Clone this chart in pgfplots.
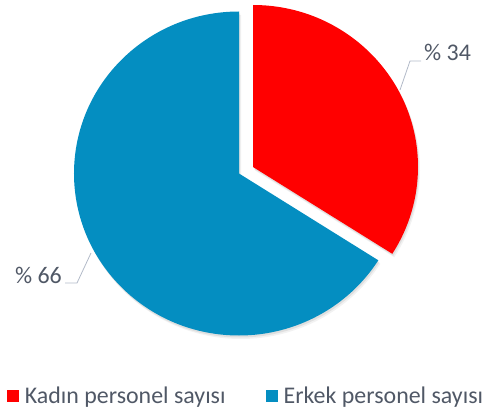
\documentclass[border=0pt]{standalone}
\usepackage{pgfplots}
\pgfplotsset{compat=1.18}
\usepackage{pgfplotstable}
\usepackage{fontspec}
\setmainfont{Carlito}
\definecolor{kred}{RGB}{255,0,0}
\definecolor{kblue}{RGB}{4,142,193}
\definecolor{txt}{RGB}{80,88,102}
\definecolor{lead}{RGB}{178,186,200}

\pgfplotstableread{
label value
Kadin 34
Erkek 66
}\piedata

\begin{document}
\begin{tikzpicture}
\pgfplotstablegetelem{0}{value}\of\piedata \let\vA\pgfplotsretval
\pgfplotstablegetelem{1}{value}\of\piedata \let\vB\pgfplotsretval
\pgfmathsetmacro\aEnd{90-360*\vA/(\vA+\vB)}
\pgfmathsetmacro\aEndB{\aEnd+360}
\begin{axis}[x=1bp,y=1bp,xmin=0,xmax=485,ymin=0,ymax=410,hide axis,clip=false,
  legend columns=2,
  legend style={draw=none,fill=none,at={(axis cs:245,5)},anchor=south,
    font=\fontsize{24}{28}\selectfont,text=txt,inner sep=0pt,
    nodes={inner sep=0pt},
    /tikz/every odd column/.append style={column sep=6bp},
    /tikz/every even column/.append style={column sep=40bp}},
  legend image code/.code={\fill[#1] (0bp,-6bp) rectangle (12bp,5.5bp);}]
\addlegendimage{fill=kred,draw=none}
\addlegendentry{Kadın personel sayısı}
\addlegendimage{fill=kblue,draw=none}
\addlegendentry{Erkek personel sayısı}
% soft shadows
\fill[black,opacity=0.05] (axis cs:241,233) -- ++(0bp,162bp)
   arc[start angle=90,end angle=\aEndB,x radius=165bp,y radius=162bp] -- cycle;
\fill[black,opacity=0.05] (axis cs:255,239.5) -- ++(0bp,162bp)
   arc[start angle=90,end angle=\aEnd,x radius=165bp,y radius=162bp] -- cycle;
\fill[black,opacity=0.08] (axis cs:240,234.5) -- ++(0bp,162bp)
   arc[start angle=90,end angle=\aEndB,x radius=165bp,y radius=162bp] -- cycle;
\fill[black,opacity=0.08] (axis cs:254,241) -- ++(0bp,162bp)
   arc[start angle=90,end angle=\aEnd,x radius=165bp,y radius=162bp] -- cycle;
\fill[kblue] (axis cs:239,236.5) -- ++(0bp,162bp)
   arc[start angle=90,end angle=\aEndB,x radius=165bp,y radius=162bp] -- cycle;
\fill[kred] (axis cs:253,243) -- ++(0bp,162bp)
   arc[start angle=90,end angle=\aEnd,x radius=165bp,y radius=162bp] -- cycle;
% leader lines and labels
\draw[lead,line width=0.8bp] (axis cs:400,320) -- (axis cs:410,349) -- (axis cs:421,349);
\node[anchor=base west,inner sep=0pt,text=txt,font=\fontsize{24}{28}\selectfont] at (axis cs:424,350) {\% 34};
\draw[lead,line width=0.8bp] (axis cs:91,157) -- (axis cs:77,127) -- (axis cs:65,127);
\node[anchor=base east,inner sep=0pt,text=txt,font=\fontsize{24}{28}\selectfont] at (axis cs:62,127) {\% 66};
\end{axis}
\path (0,0) rectangle (485bp,410bp);
\end{tikzpicture}
\end{document}
